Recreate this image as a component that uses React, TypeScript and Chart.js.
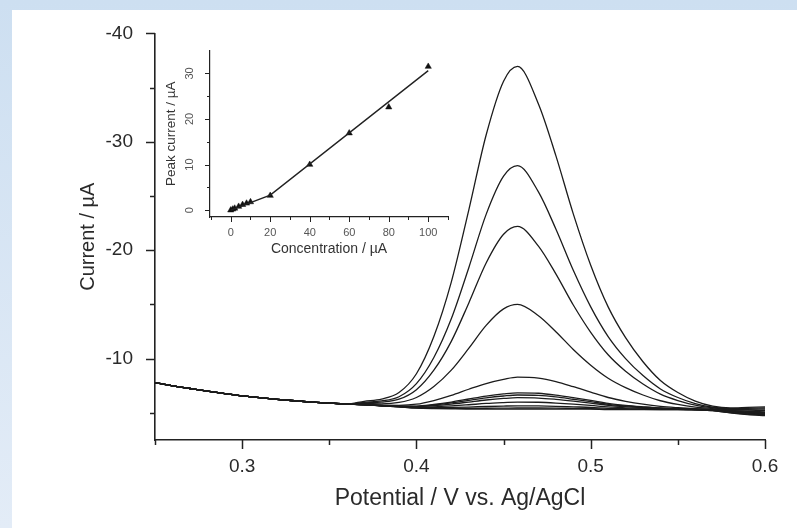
import React, { useEffect, useRef } from "react";
import { Chart, registerables } from "chart.js";

Chart.register(...registerables);

// ---------- main chart data ----------
const potentials = [
  0.25, 0.26, 0.27, 0.28, 0.29, 0.3, 0.31, 0.32, 0.33, 0.34, 0.35, 0.36,
  0.37, 0.38, 0.39, 0.4, 0.41, 0.42, 0.43, 0.44, 0.45, 0.458, 0.47, 0.48,
  0.49, 0.5, 0.51, 0.52, 0.53, 0.54, 0.55, 0.56, 0.57, 0.58, 0.59, 0.6,
];
// shared baseline section 0.25 .. 0.36
const leadBaseline = [-7.8, -7.5, -7.25, -7.0, -6.78, -6.57, -6.4, -6.25, -6.12, -6.0, -5.9, -5.82];
// each curve 0.37 .. 0.60
const curve1 = [-6.07, -6.28, -6.88, -8.61, -12.04, -17.06, -23.68, -30.63, -35.59, -36.95, -33.5, -28.73, -23.36, -18.62, -14.78, -11.94, -9.72, -7.99, -6.88, -6.09, -5.62, -5.45, -5.5, -5.55];
const curve2 = [-5.97, -6.1, -6.49, -7.7, -10.11, -13.68, -18.37, -23.31, -26.83, -27.8, -25.38, -21.96, -18.15, -14.78, -12.04, -10.01, -8.44, -7.21, -6.42, -5.86, -5.52, -5.4, -5.42, -5.45];
const curve3 = [-5.92, -5.99, -6.26, -7.14, -8.94, -11.6, -15.12, -18.83, -21.48, -22.2, -20.38, -17.82, -14.95, -12.43, -10.36, -8.84, -7.66, -6.73, -6.14, -5.72, -5.47, -5.33, -5.33, -5.35];
const curve4 = [-5.85, -5.84, -5.96, -6.42, -7.43, -8.94, -10.95, -13.07, -14.59, -15.0, -13.96, -12.49, -10.85, -9.4, -8.2, -7.33, -6.65, -6.12, -5.78, -5.54, -5.4, -5.28, -5.25, -5.22];
const curve5 = [-5.78, -5.71, -5.7, -5.8, -6.14, -6.61, -7.18, -7.71, -8.09, -8.3, -8.21, -7.89, -7.42, -6.91, -6.42, -6.07, -5.8, -5.6, -5.48, -5.39, -5.33, -5.22, -5.15, -5.1];
const curve6 = [-5.77, -5.68, -5.63, -5.63, -5.78, -6.0, -6.28, -6.55, -6.75, -6.85, -6.81, -6.64, -6.4, -6.15, -5.87, -5.69, -5.56, -5.45, -5.39, -5.35, -5.3, -5.18, -5.08, -5.02];
const curve7 = [-5.76, -5.68, -5.62, -5.61, -5.73, -5.92, -6.16, -6.39, -6.56, -6.65, -6.61, -6.47, -6.26, -6.04, -5.79, -5.64, -5.52, -5.43, -5.38, -5.34, -5.29, -5.15, -5.04, -4.97];
const curve8 = [-5.76, -5.67, -5.6, -5.58, -5.66, -5.81, -6.0, -6.19, -6.33, -6.4, -6.37, -6.25, -6.09, -5.91, -5.7, -5.57, -5.48, -5.41, -5.36, -5.33, -5.27, -5.12, -5.0, -4.92];
const curve9 = [-5.76, -5.66, -5.58, -5.53, -5.56, -5.64, -5.75, -5.87, -5.95, -6.0, -5.98, -5.91, -5.81, -5.69, -5.55, -5.47, -5.41, -5.37, -5.34, -5.32, -5.25, -5.08, -4.96, -4.87];
const curve10 = [-5.75, -5.66, -5.57, -5.49, -5.48, -5.5, -5.54, -5.59, -5.63, -5.65, -5.64, -5.61, -5.56, -5.51, -5.41, -5.38, -5.35, -5.33, -5.32, -5.31, -5.23, -5.05, -4.92, -4.83];
const curve11 = [-5.75, -5.65, -5.56, -5.46, -5.43, -5.41, -5.41, -5.43, -5.44, -5.45, -5.45, -5.44, -5.42, -5.4, -5.34, -5.33, -5.32, -5.31, -5.3, -5.27, -5.21, -5.02, -4.88, -4.78];
const curve12 = [-5.75, -5.65, -5.55, -5.45, -5.4, -5.37, -5.35, -5.35, -5.35, -5.35, -5.35, -5.35, -5.35, -5.35, -5.3, -5.3, -5.3, -5.3, -5.3, -5.26, -5.2, -5.0, -4.85, -4.75];
const curves = [curve1, curve2, curve3, curve4, curve5, curve6, curve7, curve8, curve9, curve10, curve11, curve12];

const mainXTicks = [0.25, 0.3, 0.35, 0.4, 0.45, 0.5, 0.55, 0.6];
const mainXLabels = ["", "0.3", "", "0.4", "", "0.5", "", "0.6"];
const mainYTicks = [-40, -35, -30, -25, -20, -15, -10, -5];
const mainYLabels = ["-40", "", "-30", "", "-20", "", "-10", ""];

// ---------- inset data ----------
const concentrations = [0, 1, 2, 4, 6, 8, 10, 20, 40, 60, 80, 100];
const peakCurrents = [0, 0.2, 0.4, 0.8, 1.2, 1.5, 1.8, 3.2, 10, 16.9, 22.6, 31.5];
const fitConc = [0, 20, 100];
const fitCurrent = [0, 3.3, 30.6];
const insetXTicks = [-10, 0, 10, 20, 30, 40, 50, 60, 70, 80, 90, 100, 110];
const insetXLabels = ["", "0", "", "20", "", "40", "", "60", "", "80", "", "100", ""];
const insetYTicks = [0, 5, 10, 15, 20, 25, 30];
const insetYLabels = ["0", "", "10", "", "20", "", "30"];

const FONT = "'Liberation Sans', Arial, sans-serif";

function makeTickPlugin(xLabels: string[], yLabels: string[], major: number, minor: number, color: string, width: number) {
  return {
    id: "customTicks",
    afterDraw(chart: any) {
      const ctx = chart.ctx;
      const xs = chart.scales.x;
      const ys = chart.scales.y;
      const area = chart.chartArea;
      ctx.save();
      ctx.strokeStyle = color;
      ctx.lineWidth = width;
      xs.ticks.forEach((t: any, i: number) => {
        const px = Math.round(xs.getPixelForValue(t.value)) + 0.5;
        const len = xLabels[i] ? major : minor;
        ctx.beginPath();
        ctx.moveTo(px, area.bottom);
        ctx.lineTo(px, area.bottom + len);
        ctx.stroke();
      });
      ys.ticks.forEach((t: any, i: number) => {
        const py = Math.round(ys.getPixelForValue(t.value)) + 0.5;
        const len = yLabels[i] ? major : minor;
        ctx.beginPath();
        ctx.moveTo(area.left, py);
        ctx.lineTo(area.left - len, py);
        ctx.stroke();
      });
      ctx.restore();
    },
  };
}

export default function App() {
  const mainRef = useRef<HTMLCanvasElement>(null);
  const insetRef = useRef<HTMLCanvasElement>(null);

  useEffect(() => {
    const datasets = curves.map((c) => ({
      data: potentials.map((x, i) => ({
        x,
        y: i < leadBaseline.length ? leadBaseline[i] : c[i - leadBaseline.length],
      })),
      borderColor: "#1c1c1c",
      borderWidth: 1.3,
      pointRadius: 0,
      fill: false,
      cubicInterpolationMode: "monotone" as const,
    }));

    const main = new Chart(mainRef.current!, {
      type: "line",
      data: { datasets },
      options: {
        animation: false,
        responsive: false,
        maintainAspectRatio: false,
        events: [],
        layout: { padding: { top: 29, right: 32, left: 0, bottom: 0 } },
        plugins: { legend: { display: false }, tooltip: { enabled: false } },
        scales: {
          x: {
            type: "linear",
            min: 0.25,
            max: 0.6,
            afterBuildTicks: (s: any) => {
              s.ticks = mainXTicks.map((v) => ({ value: v }));
            },
            afterFit: (s: any) => {
              s.height = 88;
            },
            grid: { display: false, drawTicks: false },
            border: { display: true, color: "#222", width: 1.6 },
            ticks: {
              autoSkip: false,
              maxRotation: 0,
              minRotation: 0,
              padding: 15,
              color: "#2a2a2a",
              font: { family: FONT, size: 19 },
              callback: (_v: any, i: number) => mainXLabels[i],
            },
            title: {
              display: true,
              text: "Potential / V vs. Ag/AgCl",
              color: "#2a2a2a",
              font: { family: FONT, size: 23 },
              padding: { top: 0, bottom: 16 },
            },
          },
          y: {
            type: "linear",
            min: -40,
            max: -2.5,
            reverse: true,
            afterBuildTicks: (s: any) => {
              s.ticks = mainYTicks.map((v) => ({ value: v }));
            },
            afterFit: (s: any) => {
              s.width = 155;
            },
            grid: { display: false, drawTicks: false },
            border: { display: true, color: "#222", width: 1.6 },
            ticks: {
              autoSkip: false,
              padding: 22,
              color: "#2a2a2a",
              font: { family: FONT, size: 19 },
              callback: (_v: any, i: number) => mainYLabels[i],
            },
            title: {
              display: true,
              text: "Current / µA",
              color: "#2a2a2a",
              font: { family: FONT, size: 20 },
              padding: { top: 76, bottom: 0 },
            },
          },
        },
      },
      plugins: [makeTickPlugin(mainXLabels, mainYLabels, 9, 5, "#222", 1.5)],
    });

    const inset = new Chart(insetRef.current!, {
      type: "scatter",
      data: {
        datasets: [
          {
            data: fitConc.map((x, i) => ({ x, y: fitCurrent[i] })),
            showLine: true,
            borderColor: "#222",
            borderWidth: 1.4,
            pointRadius: 0,
          },
          {
            data: concentrations.map((x, i) => ({ x, y: peakCurrents[i] })),
            showLine: false,
            pointStyle: "triangle",
            pointRadius: 3.6,
            backgroundColor: "#111",
            borderColor: "#111",
            borderWidth: 0.5,
          },
        ],
      },
      options: {
        animation: false,
        responsive: false,
        maintainAspectRatio: false,
        events: [],
        layout: { padding: { top: 15, right: 12, left: 0, bottom: 0 } },
        plugins: { legend: { display: false }, tooltip: { enabled: false } },
        scales: {
          x: {
            type: "linear",
            min: -10.5,
            max: 110,
            afterBuildTicks: (s: any) => {
              s.ticks = insetXTicks.map((v) => ({ value: v }));
            },
            afterFit: (s: any) => {
              s.height = 53;
            },
            grid: { display: false, drawTicks: false },
            border: { display: true, color: "#222", width: 1.2 },
            ticks: {
              autoSkip: false,
              maxRotation: 0,
              minRotation: 0,
              padding: 9,
              color: "#555",
              font: { family: FONT, size: 11 },
              callback: (_v: any, i: number) => insetXLabels[i],
            },
            title: {
              display: true,
              text: "Concentration / µA",
              color: "#333",
              font: { family: FONT, size: 14 },
              padding: { top: 0, bottom: 12 },
            },
          },
          y: {
            type: "linear",
            min: -1.5,
            max: 35,
            afterBuildTicks: (s: any) => {
              s.ticks = insetYTicks.map((v) => ({ value: v }));
            },
            afterFit: (s: any) => {
              s.width = 60;
            },
            grid: { display: false, drawTicks: false },
            border: { display: true, color: "#222", width: 1.2 },
            ticks: {
              autoSkip: false,
              minRotation: 90,
              maxRotation: 90,
              crossAlign: "center",
              padding: 14,
              color: "#555",
              font: { family: FONT, size: 11 },
              callback: (_v: any, i: number) => insetYLabels[i],
            },
            title: {
              display: true,
              text: "Peak current / µA",
              color: "#333",
              font: { family: FONT, size: 13.5 },
              padding: { top: 13, bottom: 0 },
            },
          },
        },
      },
      plugins: [makeTickPlugin(insetXLabels, insetYLabels, 5, 3, "#222", 1)],
    });

    return () => {
      main.destroy();
      inset.destroy();
    };
  }, []);

  return (
    <div
      style={{
        position: "fixed",
        left: 0,
        top: 0,
        width: 797,
        height: 528,
        background: "linear-gradient(to bottom, #cddff1, #e3ecf7)",
        overflow: "hidden",
      }}
    >
      <div style={{ position: "absolute", left: 12, top: 10, right: 0, bottom: 0, background: "#ffffff" }} />
      <canvas
        ref={mainRef}
        width={797}
        height={528}
        style={{ position: "absolute", left: 0, top: 0, width: 797, height: 528 }}
      />
      <canvas
        ref={insetRef}
        width={310}
        height={240}
        style={{ position: "absolute", left: 150, top: 30, width: 310, height: 240 }}
      />
    </div>
  );
}
